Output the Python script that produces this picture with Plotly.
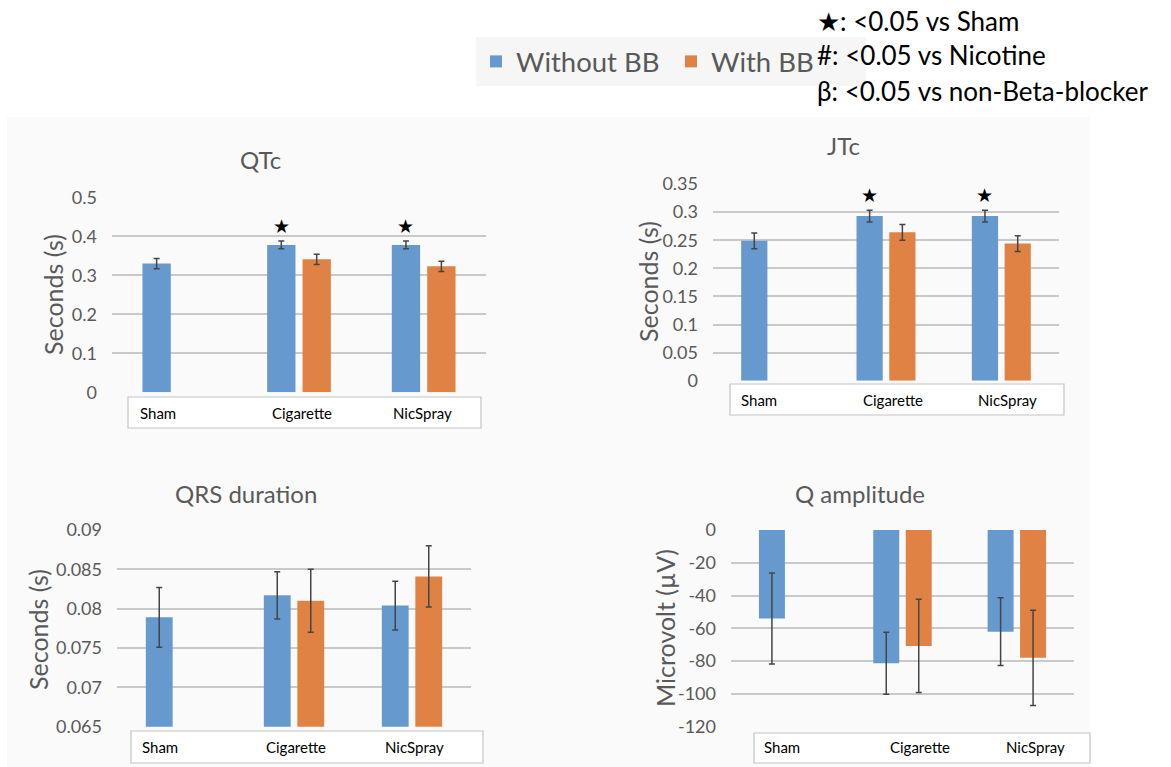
import plotly.graph_objects as go

# ---------------- data ----------------
categories = ["Sham", "Cigarette", "NicSpray"]
series_names = ["Without BB", "With BB"]

qtc_without = [0.330, 0.378, 0.378]
qtc_without_err = [0.013, 0.010, 0.010]
qtc_with = [None, 0.341, 0.323]
qtc_with_err = [0, 0.013, 0.013]
qtc_sig = ["", "★", "★"]

jtc_without = [0.249, 0.293, 0.293]
jtc_without_err = [0.014, 0.0105, 0.0105]
jtc_with = [None, 0.264, 0.244]
jtc_with_err = [0, 0.014, 0.014]
jtc_sig = ["", "★", "★"]

qrs_without = [0.0789, 0.0817, 0.0804]
qrs_without_err = [0.0038, 0.0030, 0.0031]
qrs_with = [None, 0.0810, 0.0841]
qrs_with_err = [0, 0.0040, 0.0039]
qrs_sig = ["", "", ""]

qamp_without = [-54.0, -81.3, -62.0]
qamp_without_err = [27.7, 18.9, 20.7]
qamp_with = [None, -70.7, -78.0]
qamp_with_err = [0, 28.5, 29.0]
qamp_sig = ["", "", ""]

qtc_ticks = [0, 0.1, 0.2, 0.3, 0.4, 0.5]
qtc_ticklabels = ["0", "0.1", "0.2", "0.3", "0.4", "0.5"]
jtc_ticks = [0, 0.05, 0.1, 0.15, 0.2, 0.25, 0.3, 0.35]
jtc_ticklabels = ["0", "0.05", "0.1", "0.15", "0.2", "0.25", "0.3", "0.35"]
qrs_ticks = [0.065, 0.07, 0.075, 0.08, 0.085, 0.09]
qrs_ticklabels = ["0.065", "0.07", "0.075", "0.08", "0.085", "0.09"]
qamp_ticks = [-120, -100, -80, -60, -40, -20, 0]
qamp_ticklabels = ["-120", "-100", "-80", "-60", "-40", "-20", "0"]

titles = ["QTc", "JTc", "QRS duration", "Q amplitude"]
ytitles = ["Seconds (s)", "Seconds (s)", "Seconds (s)", "Microvolt (µV)"]
note_lines = ["★: <0.05 vs Sham", "#: <0.05 vs Nicotine", "β: <0.05 vs non-Beta-blocker"]

# ---------------- layout geometry (page pixels) ----------------
W, H = 1171, 767
def px(x):
    return x / W
def py(y):
    return 1 - y / H

BLUE = "#6699CE"
ORANGE = "#E08244"
GRAY_TXT = "#595959"
ERR = "#454545"
FONT = "Lato"
BARGAP = 0.432

panels = [
    dict(vals=(qtc_without, qtc_without_err, qtc_with, qtc_with_err), sig=qtc_sig,
         ticks=qtc_ticks, labels=qtc_ticklabels, rng=[0, 0.5],
         dom_x=(112, 486), dom_y=(197.3, 392.3), title_xy=(260, 159), ytitle_xy=(53, 295),
         box=(128, 397, 481, 428), lab_x=(138, 270, 391), lab_y=413),
    dict(vals=(jtc_without, jtc_without_err, jtc_with, jtc_with_err), sig=jtc_sig,
         ticks=jtc_ticks, labels=jtc_ticklabels, rng=[0, 0.35],
         dom_x=(713, 1059), dom_y=(184, 380.7), title_xy=(843, 145), ytitle_xy=(648, 282),
         box=(730, 384, 1064, 415), lab_x=(739, 861, 976), lab_y=400),
    dict(vals=(qrs_without, qrs_without_err, qrs_with, qrs_with_err), sig=qrs_sig,
         ticks=qrs_ticks, labels=qrs_ticklabels, rng=[0.065, 0.09],
         dom_x=(117, 471), dom_y=(530, 726.7), title_xy=(246, 493), ytitle_xy=(38, 630),
         box=(131, 731, 483, 763), lab_x=(140, 264, 383), lab_y=747),
    dict(vals=(qamp_without, qamp_without_err, qamp_with, qamp_with_err), sig=qamp_sig,
         ticks=qamp_ticks, labels=qamp_ticklabels, rng=[-120, 0],
         dom_x=(731, 1074), dom_y=(530, 726.7), title_xy=(860, 493), ytitle_xy=(665, 628),
         box=(754, 733, 1090, 763), lab_x=(762, 888, 1004), lab_y=747),
]

fig = go.Figure()
shapes = [dict(type="rect", xref="paper", yref="paper", x0=px(7), x1=px(1090), y0=0, y1=py(117),
               fillcolor="#FAFAFA", line=dict(width=0), layer="below")]
annotations = []
layout_axes = {}

for i, p in enumerate(panels, start=1):
    sfx = "" if i == 1 else str(i)
    xa, ya = "x" + sfx, "y" + sfx
    w_vals, w_err, b_vals, b_err = p["vals"]
    for name, vals, errs, color in ((series_names[0], w_vals, w_err, BLUE),
                                    (series_names[1], b_vals, b_err, ORANGE)):
        fig.add_trace(go.Bar(
            x=categories, y=vals, name=name, marker=dict(color=color, line=dict(width=0)),
            error_y=dict(type="data", array=errs, visible=True, color=ERR, thickness=1.5, width=3),
            xaxis=xa, yaxis=ya, legendgroup=name, showlegend=(i == 1),
        ))
    layout_axes["xaxis" + sfx] = dict(
        domain=[px(p["dom_x"][0]), px(p["dom_x"][1])], anchor=ya, type="category",
        range=[-0.5, len(categories) - 0.5], showticklabels=False, showgrid=False,
        zeroline=False, showline=False, ticks="", automargin=False)
    layout_axes["yaxis" + sfx] = dict(
        domain=[py(p["dom_y"][1]), py(p["dom_y"][0])], anchor=xa, range=p["rng"],
        tickmode="array", tickvals=p["ticks"], ticktext=p["labels"], automargin=False,
        showgrid=True, gridcolor="#C9C9C9", gridwidth=1.8, zeroline=False, showline=False,
        ticks="", ticklabelstandoff=14, tickfont=dict(family=FONT, size=18, color=GRAY_TXT))
    # significance stars above the "Without BB" bars
    cat_px = (p["dom_x"][1] - p["dom_x"][0]) / len(categories)
    pitch = cat_px * (1 - BARGAP) / 2
    for c, s, v, e in zip(categories, p["sig"], w_vals, w_err):
        if s:
            annotations.append(dict(x=c, y=v + e, xref=xa, yref=ya, text=s, showarrow=False,
                                    xanchor="center", yanchor="bottom", xshift=-pitch / 2, yshift=2,
                                    font=dict(family="DejaVu Sans", size=19, color="black")))
    # panel title and y-axis title
    annotations.append(dict(x=px(p["title_xy"][0]), y=py(p["title_xy"][1]), xref="paper", yref="paper",
                            text=titles[i - 1], showarrow=False, xanchor="center", yanchor="middle",
                            font=dict(family=FONT, size=24, color=GRAY_TXT)))
    annotations.append(dict(x=px(p["ytitle_xy"][0]), y=py(p["ytitle_xy"][1]), xref="paper", yref="paper",
                            text=ytitles[i - 1], showarrow=False, textangle=-90,
                            xanchor="center", yanchor="middle",
                            font=dict(family=FONT, size=25, color=GRAY_TXT)))
    # category table box with labels
    bx0, by0, bx1, by1 = p["box"]
    shapes.append(dict(type="rect", xref="paper", yref="paper", x0=px(bx0), x1=px(bx1),
                       y0=py(by1), y1=py(by0), fillcolor="white",
                       line=dict(color="#C4C4C4", width=1.2), layer="below"))
    for c, lx in zip(categories, p["lab_x"]):
        annotations.append(dict(x=px(lx), y=py(p["lab_y"]), xref="paper", yref="paper", text=c,
                                showarrow=False, xanchor="left", yanchor="middle",
                                font=dict(family=FONT, size=15, color="black")))

# significance key, top right
for txt, yc in zip(note_lines, (21, 55, 91)):
    annotations.append(dict(x=px(815), y=py(yc), xref="paper", yref="paper", text=txt,
                            showarrow=False, xanchor="left", yanchor="middle",
                            font=dict(family=FONT, size=26, color="black")))

fig.update_layout(
    width=W, height=H, margin=dict(l=0, r=0, t=0, b=0, pad=0, autoexpand=False),
    paper_bgcolor="white", plot_bgcolor="rgba(0,0,0,0)",
    barmode="group", bargap=BARGAP, bargroupgap=0.2,
    showlegend=True,
    legend=dict(orientation="h", x=px(476), y=py(37), xanchor="left", yanchor="top",
                bgcolor="#F6F6F6", font=dict(family=FONT, size=27.5, color=GRAY_TXT),
                itemwidth=30, entrywidth=150, traceorder="normal"),
    shapes=shapes, annotations=annotations,
    **layout_axes,
)

# the figure fills the whole 1171x767 window: drop the page's default body margin
fig.write_html("out.html", config={"displayModeBar": False},
               post_script="document.body.style.margin='0px';")
